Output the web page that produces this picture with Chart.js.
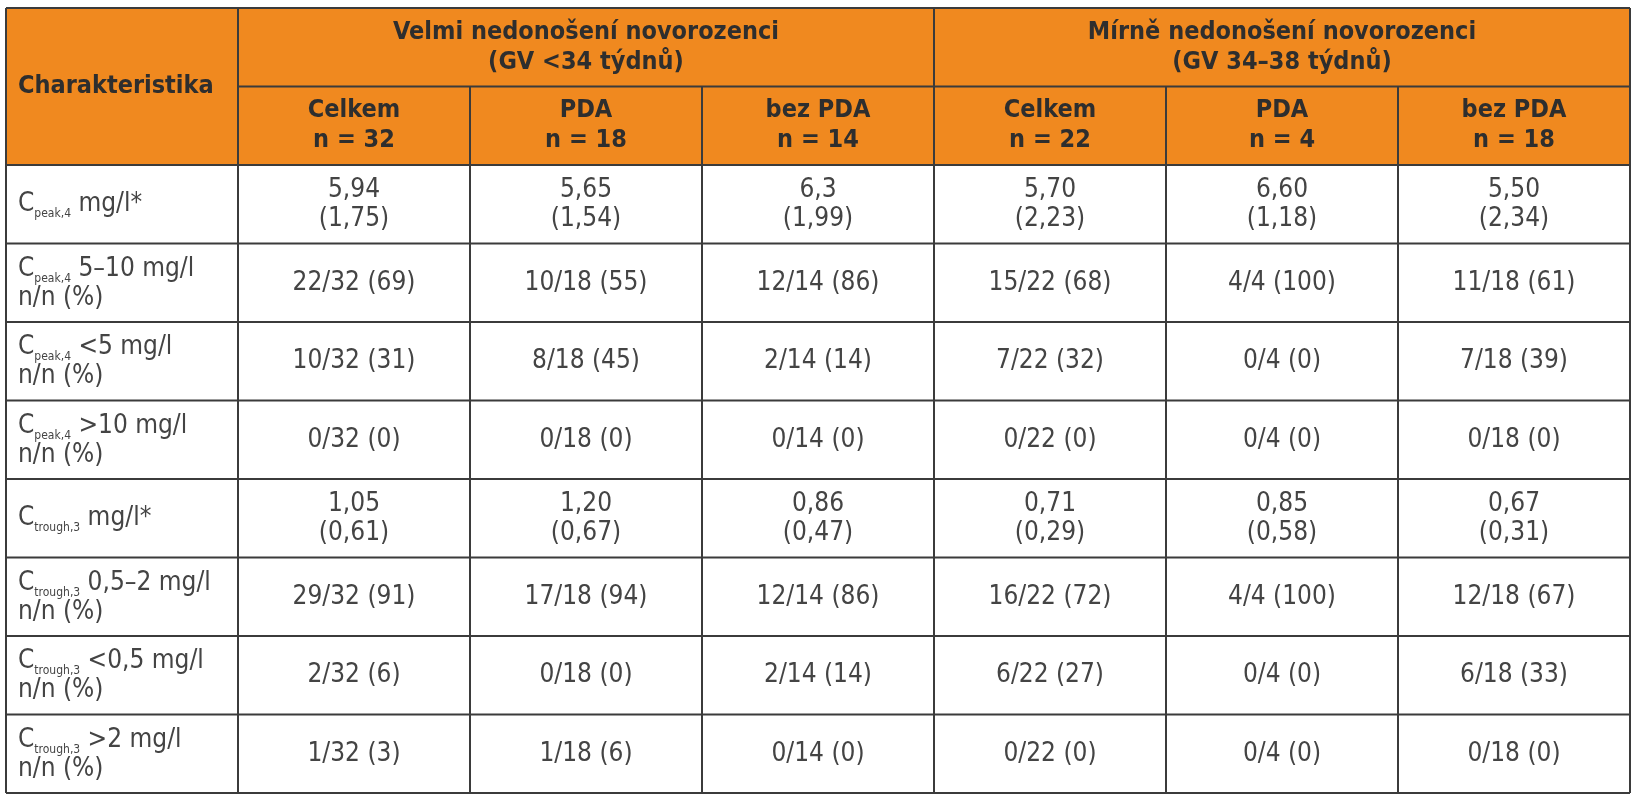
<!DOCTYPE html>
<html>
<head>
<meta charset="utf-8">
<script src="https://cdn.jsdelivr.net/npm/chart.js@4/dist/chart.umd.min.js"></script>
<style>
  body { margin: 0; background: #fff; }
  #wrap { width: 1636px; height: 800px; }
</style>
</head>
<body>
<div id="wrap"><canvas id="table"></canvas></div>
<script>
// Table content
const groups = [
    ['Velmi nedonošení novorozenci', '(GV <34 týdnů)'],
    ['Mírně nedonošení novorozenci', '(GV 34–38 týdnů)']
];
const subCols = ['Celkem', 'PDA', 'bez PDA', 'Celkem', 'PDA', 'bez PDA'];
const subN = ['n = 32', 'n = 18', 'n = 14', 'n = 22', 'n = 4', 'n = 18'];

// row labels: [sub, rest of line 1, line 2]
const rowLabels = [
    ['peak,4', ' mg/l*', ''],
    ['peak,4', ' 5–10 mg/l', 'n/n (%)'],
    ['peak,4', ' <5 mg/l', 'n/n (%)'],
    ['peak,4', ' >10 mg/l', 'n/n (%)'],
    ['trough,3', ' mg/l*', ''],
    ['trough,3', ' 0,5–2 mg/l', 'n/n (%)'],
    ['trough,3', ' <0,5 mg/l', 'n/n (%)'],
    ['trough,3', ' >2 mg/l', 'n/n (%)']
];

const peakMean = [['5,94', '(1,75)'], ['5,65', '(1,54)'], ['6,3', '(1,99)'], ['5,70', '(2,23)'], ['6,60', '(1,18)'], ['5,50', '(2,34)']];
const peak5to10 = ['22/32 (69)', '10/18 (55)', '12/14 (86)', '15/22 (68)', '4/4 (100)', '11/18 (61)'];
const peakBelow5 = ['10/32 (31)', '8/18 (45)', '2/14 (14)', '7/22 (32)', '0/4 (0)', '7/18 (39)'];
const peakAbove10 = ['0/32 (0)', '0/18 (0)', '0/14 (0)', '0/22 (0)', '0/4 (0)', '0/18 (0)'];
const troughMean = [['1,05', '(0,61)'], ['1,20', '(0,67)'], ['0,86', '(0,47)'], ['0,71', '(0,29)'], ['0,85', '(0,58)'], ['0,67', '(0,31)']];
const trough05to2 = ['29/32 (91)', '17/18 (94)', '12/14 (86)', '16/22 (72)', '4/4 (100)', '12/18 (67)'];
const troughBelow05 = ['2/32 (6)', '0/18 (0)', '2/14 (14)', '6/22 (27)', '0/4 (0)', '6/18 (33)'];
const troughAbove2 = ['1/32 (3)', '1/18 (6)', '0/14 (0)', '0/22 (0)', '0/4 (0)', '0/18 (0)'];

const bodyRows = [peakMean, peak5to10, peakBelow5, peakAbove10, troughMean, trough05to2, troughBelow05, troughAbove2];

const FONT = "'Liberation Sans Narrow', 'DejaVu Sans Condensed', sans-serif";
const ORANGE = '#f0891f';
const LINE = '#3b3b3b';

const tablePlugin = {
    id: 'tableDraw',
    afterDraw(chart) {
        const ctx = chart.ctx;
        const x = chart.scales.x, y = chart.scales.y;
        const X = v => x.getPixelForValue(v);
        const Y = v => y.getPixelForValue(v);

        // header background
        ctx.fillStyle = ORANGE;
        ctx.fillRect(X(0), Y(0), X(7) - X(0), Y(2) - Y(0));

        ctx.textBaseline = 'middle';

        // header texts
        ctx.fillStyle = '#2e2e2e';
        ctx.font = 'bold 25px ' + FONT;
        ctx.textAlign = 'left';
        ctx.fillText('Charakteristika', X(0) + 12, Y(1));
        ctx.textAlign = 'center';
        groups.forEach((g, i) => {
            const cx = (X(1 + i * 3) + X(4 + i * 3)) / 2;
            ctx.fillText(g[0], cx, Y(0.5) - 15);
            ctx.fillText(g[1], cx, Y(0.5) + 15);
        });
        subCols.forEach((s, i) => {
            const cx = (X(1 + i) + X(2 + i)) / 2;
            ctx.fillText(s, cx, Y(1.5) - 15);
            ctx.fillText(subN[i], cx, Y(1.5) + 15);
        });

        // body texts
        ctx.fillStyle = '#444';
        bodyRows.forEach((row, r) => {
            const cy = Y(2.5 + r);
            const lab = rowLabels[r];
            const twoLine = lab[2] !== '';
            const ly = twoLine ? cy - 14 : cy;
            ctx.textAlign = 'left';
            let lx = X(0) + 12;
            ctx.font = '26px ' + FONT;
            ctx.fillText('C', lx, ly);
            lx += ctx.measureText('C').width;
            ctx.font = '12px ' + FONT;
            ctx.fillText(lab[0], lx, ly + 10);
            lx += ctx.measureText(lab[0]).width;
            ctx.font = '26px ' + FONT;
            ctx.fillText(lab[1], lx, ly);
            if (twoLine) ctx.fillText(lab[2], X(0) + 12, cy + 15);

            ctx.textAlign = 'center';
            row.forEach((v, c) => {
                const cx = (X(1 + c) + X(2 + c)) / 2;
                if (Array.isArray(v)) {
                    ctx.fillText(v[0], cx, cy - 14);
                    ctx.fillText(v[1], cx, cy + 15);
                } else {
                    ctx.fillText(v, cx, cy);
                }
            });
        });

        // grid lines
        ctx.strokeStyle = LINE;
        ctx.lineWidth = 2;
        const line = (x1, y1, x2, y2) => {
            ctx.beginPath(); ctx.moveTo(x1, y1); ctx.lineTo(x2, y2); ctx.stroke();
        };
        line(X(0), Y(0), X(7), Y(0));
        line(X(1), Y(1), X(7), Y(1));
        for (let r = 2; r <= 10; r++) line(X(0), Y(r), X(7), Y(r));
        line(X(0), Y(0), X(0), Y(10));
        line(X(7), Y(0), X(7), Y(10));
        line(X(1), Y(0), X(1), Y(10));
        line(X(4), Y(0), X(4), Y(10));
        [2, 3, 5, 6].forEach(c => line(X(c), Y(1), X(c), Y(10)));
    }
};

new Chart(document.getElementById('table'), {
    type: 'scatter',
    data: { datasets: [] },
    options: {
        responsive: true,
        maintainAspectRatio: false,
        animation: false,
        layout: { padding: { left: 6, right: 6, top: 8, bottom: 7 } },
        plugins: { legend: { display: false }, tooltip: { enabled: false } },
        scales: {
            x: { type: 'linear', min: 0, max: 7, display: false },
            y: { type: 'linear', min: 0, max: 10, reverse: true, display: false }
        }
    },
    plugins: [tablePlugin]
});
</script>
</body>
</html>
